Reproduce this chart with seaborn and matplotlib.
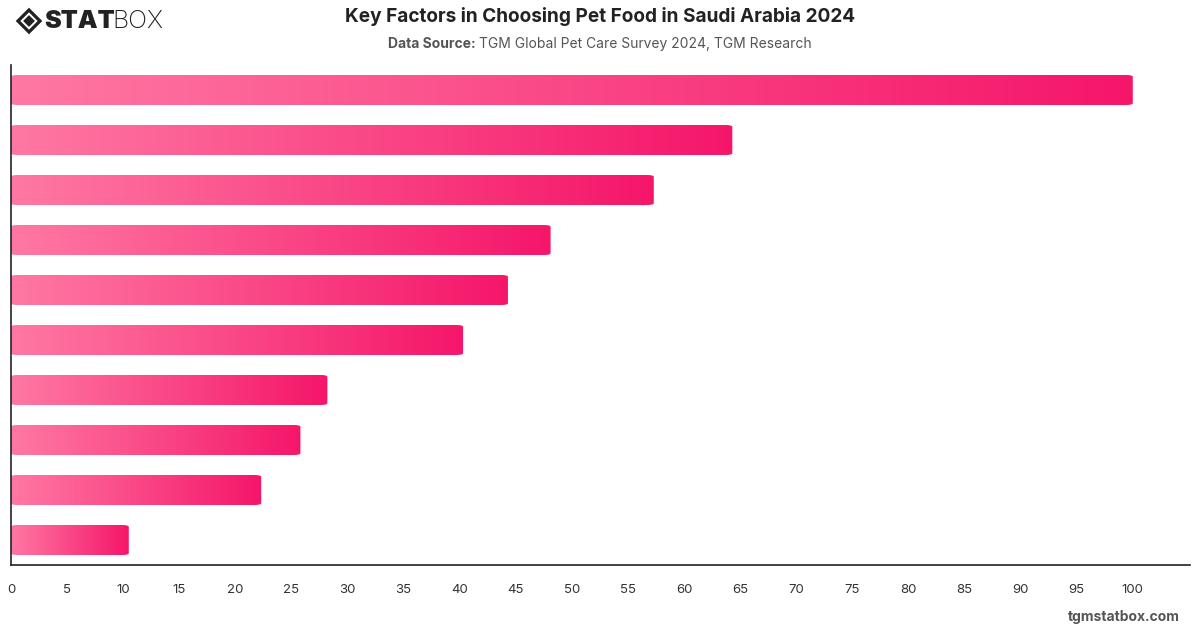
import matplotlib
matplotlib.use("Agg")
import matplotlib.pyplot as plt
import numpy as np
import pandas as pd
import seaborn as sns
from matplotlib.colors import LinearSegmentedColormap
from matplotlib.patches import FancyBboxPatch, Polygon

# Values (category names are not shown on the chart)
factors = ["Factor 1", "Factor 2", "Factor 3", "Factor 4", "Factor 5",
           "Factor 6", "Factor 7", "Factor 8", "Factor 9", "Factor 10"]
shares = [100.0, 64.3, 57.3, 48.1, 44.3, 40.3, 28.2, 25.8, 22.3, 10.5]
ticks = list(range(0, 101, 5))

df = pd.DataFrame({"factor": factors, "share": shares})

sns.set_theme(style="white")
plt.rcParams["font.family"] = ["Inter", "DejaVu Sans"]

fig = plt.figure(figsize=(12, 6.28), dpi=100)
ax = fig.add_axes([11 / 1200, 1 - 565 / 628, 1179 / 1200, 500 / 628])

sns.barplot(data=df, x="share", y="factor", orient="h", width=0.6,
            color="#ff75a0", ax=ax)

grad_cmap = LinearSegmentedColormap.from_list("pink", ["#ff78a3", "#f5166a"])
gradient = np.linspace(0, 1, 256).reshape(1, -1)

for bar in list(ax.patches):
    x0, y0 = bar.get_x(), bar.get_y()
    w, h = bar.get_width(), bar.get_height()
    bar.set_visible(False)
    clip = FancyBboxPatch((x0, y0), w, h,
                          boxstyle="round,pad=0,rounding_size=0.6",
                          mutation_aspect=h / 0.6 * 0.06,
                          transform=ax.transData, facecolor="none",
                          edgecolor="none")
    ax.add_patch(clip)
    img = ax.imshow(gradient, cmap=grad_cmap, aspect="auto",
                    extent=[x0, x0 + w, y0 + h, y0], zorder=2,
                    interpolation="bilinear")
    img.set_clip_path(clip)

ax.set_xlim(0, 105.1)
ax.set_ylim(9.5, -0.5)
ax.set_xticks(ticks)
ax.set_xticklabels([str(t) for t in ticks], fontsize=9.5, color="#333333")
ax.tick_params(axis="x", length=0, pad=14)
ax.set_yticks([])
ax.set_xlabel("")
ax.set_ylabel("")
for side in ["top", "right"]:
    ax.spines[side].set_visible(False)
for side in ["left", "bottom"]:
    ax.spines[side].set_color("#222222")
    ax.spines[side].set_linewidth(1.2)

fig.text(0.5, 1 - 17 / 628, "Key Factors in Choosing Pet Food in Saudi Arabia 2024",
         ha="center", va="center", fontsize=13.7, fontweight="bold", color="#222222")
left_txt = fig.text(0.5, 1 - 44 / 628, "Data Source: ", ha="right", va="center",
                    fontsize=10, fontweight="bold", color="#555555")
sub = fig.text(0.5, 1 - 44 / 628, "TGM Global Pet Care Survey 2024, TGM Research",
               ha="left", va="center", fontsize=10, color="#555555")
# center the two-part subtitle as a whole
fig.canvas.draw()
r = fig.canvas.get_renderer()
wl = left_txt.get_window_extent(r).width
wr = sub.get_window_extent(r).width
shift = (wl - wr) / 2 / 1200
left_txt.set_x(0.5 + shift)
sub.set_x(0.5 + shift)

# logo mark in a small square axes
lax = fig.add_axes([15 / 1200, 1 - 35 / 628, 28 / 1200, 28 / 628])
lax.set_xlim(-1, 1)
lax.set_ylim(-1, 1)
lax.set_aspect("equal")
lax.axis("off")
lax.add_patch(Polygon([(0, 0.95), (0.95, 0), (0, -0.95), (-0.95, 0)],
                      closed=True, facecolor="#222222", edgecolor="none"))
lax.add_patch(Polygon([(0, 0.62), (0.62, 0), (0, -0.62), (-0.62, 0)],
                      closed=True, facecolor="white", edgecolor="none"))
lax.add_patch(Polygon([(0, 0.42), (0.42, 0), (0, -0.42), (-0.42, 0)],
                      closed=True, facecolor="#222222", edgecolor="none"))

fig.text(44 / 1200, 1 - 21 / 628, "STAT", ha="left", va="center", fontsize=18,
         fontweight="black", color="#222222")
fig.text(112 / 1200, 1 - 21 / 628, "BOX", ha="left", va="center", fontsize=18,
         fontweight="light", color="#222222")

fig.text(1180 / 1200, 1 - 617 / 628, "tgmstatbox.com", ha="right", va="center",
         fontsize=10, fontweight="bold", color="#555555")

fig.savefig("out.png", dpi=100)
